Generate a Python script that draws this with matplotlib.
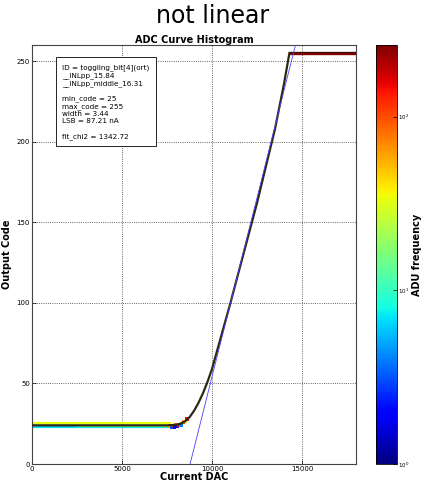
import numpy as np
import matplotlib
matplotlib.use("Agg")
import matplotlib.pyplot as plt
from matplotlib.colors import LogNorm

# mean ADC curve
curve_dac = [0, 2000, 4000, 6000, 7500, 8000, 8250, 8500, 8750, 9000, 9250,
             9500, 9750, 10000, 10500, 11000, 11500, 12000, 12500, 13000,
             13500, 14000, 14300, 16000, 18000]
curve_code = [24, 24, 24, 24, 24, 24.3, 25, 26.5, 29, 33, 38,
              44, 51, 59, 79, 99, 120, 141, 162, 185,
              208, 236, 255, 255, 255]

# histogram rows along the flat pedestal / saturation
row_code = [25.2, 23.0, 23.6, 255.0]
row_start = [0, 0, 2500, 14300]
row_stop = [7700, 7600, 7900, 18000]
row_freq = [33, 7, 16, 258]

# scattered bins in the knee
knee_dac = [7650, 7750, 7850, 7900, 8000, 8050, 8150, 8250, 8300, 8400, 8500, 8600]
knee_code = [23.5, 23, 24, 23, 24.5, 23.5, 24, 25, 24, 26, 26.5, 28]
knee_freq = [60, 3, 100, 2, 80, 1.5, 120, 40, 4, 90, 30, 150]

# linear fit
fit_slope = 0.0444
fit_zero = 8780
fit_dac = [8000, 18000]

info = ("ID = toggling_bit[4](ort)\n__INLpp_15.84\n__INLpp_middle_16.31\n\n"
        "min_code = 25\nmax_code = 255\nwidth = 3.44\nLSB = 87.21 nA\n\n"
        "fit_chi2 = 1342.72")

cmap = plt.get_cmap("jet")
norm = LogNorm(vmin=1, vmax=258)

fig = plt.figure(figsize=(4.25, 4.84), dpi=100)
fig.text(0.5, 0.966, "not linear", ha="center", va="center", fontsize=17)
ax = fig.add_axes([0.0753, 0.0413, 0.7624, 0.8657])

for c, s, e, f in zip(row_code, row_start, row_stop, row_freq):
    ax.hlines(c, s, e, color=cmap(norm(f)), lw=1.6 if c < 200 else 2.4, zorder=2)
ax.scatter(knee_dac, knee_code, c=knee_freq, cmap=cmap, norm=norm, s=6,
           marker="s", linewidths=0, zorder=3)
ax.plot(curve_dac[:-2], curve_code[:-2], color="#2b2a12", lw=1.6, zorder=4)
ax.plot(curve_dac[-3:], [c + 0.8 for c in curve_code[-3:]], color="#2b1010", lw=0.6, zorder=4)

fx = np.array(fit_dac)
ax.plot(fx, fit_slope * (fx - fit_zero), color="#4444ff", lw=0.6, zorder=5)

ax.set_xlim(0, 18000)
ax.set_ylim(0, 260)
ax.set_xticks([0, 5000, 10000, 15000])
ax.set_yticks([0, 50, 100, 150, 200, 250])
ax.tick_params(labelsize=5, direction="in", length=3, width=0.5, pad=1.5)
ax.grid(True, color="#333333", linestyle=":", lw=0.6)
for sp in ax.spines.values():
    sp.set_color("#444444")
ax.set_title("ADC Curve Histogram", fontsize=7, fontweight="bold", pad=1.5)
ax.set_xlabel("Current DAC", fontsize=7, fontweight="bold", labelpad=0)
ax.set_ylabel("Output Code", fontsize=7, fontweight="bold", labelpad=3)
ax.text(0.093, 0.955, info, transform=ax.transAxes, fontsize=5.2, va="top",
        ha="left", linespacing=1.25,
        bbox=dict(boxstyle="square,pad=0.9", fc="white", ec="black", lw=0.6))

cax = fig.add_axes([0.8847, 0.0413, 0.0494, 0.8657])
sm = plt.cm.ScalarMappable(norm=norm, cmap=cmap)
cb = fig.colorbar(sm, cax=cax)
cb.set_ticks([1, 10, 100])
cb.ax.minorticks_off()
cb.ax.tick_params(labelsize=4, direction="in", length=3, width=0.5, pad=1)
cb.set_label("ADU frequency", fontsize=7, fontweight="bold", labelpad=2)
cb.outline.set_linewidth(0.6)

fig.savefig("out.png", dpi=100)
